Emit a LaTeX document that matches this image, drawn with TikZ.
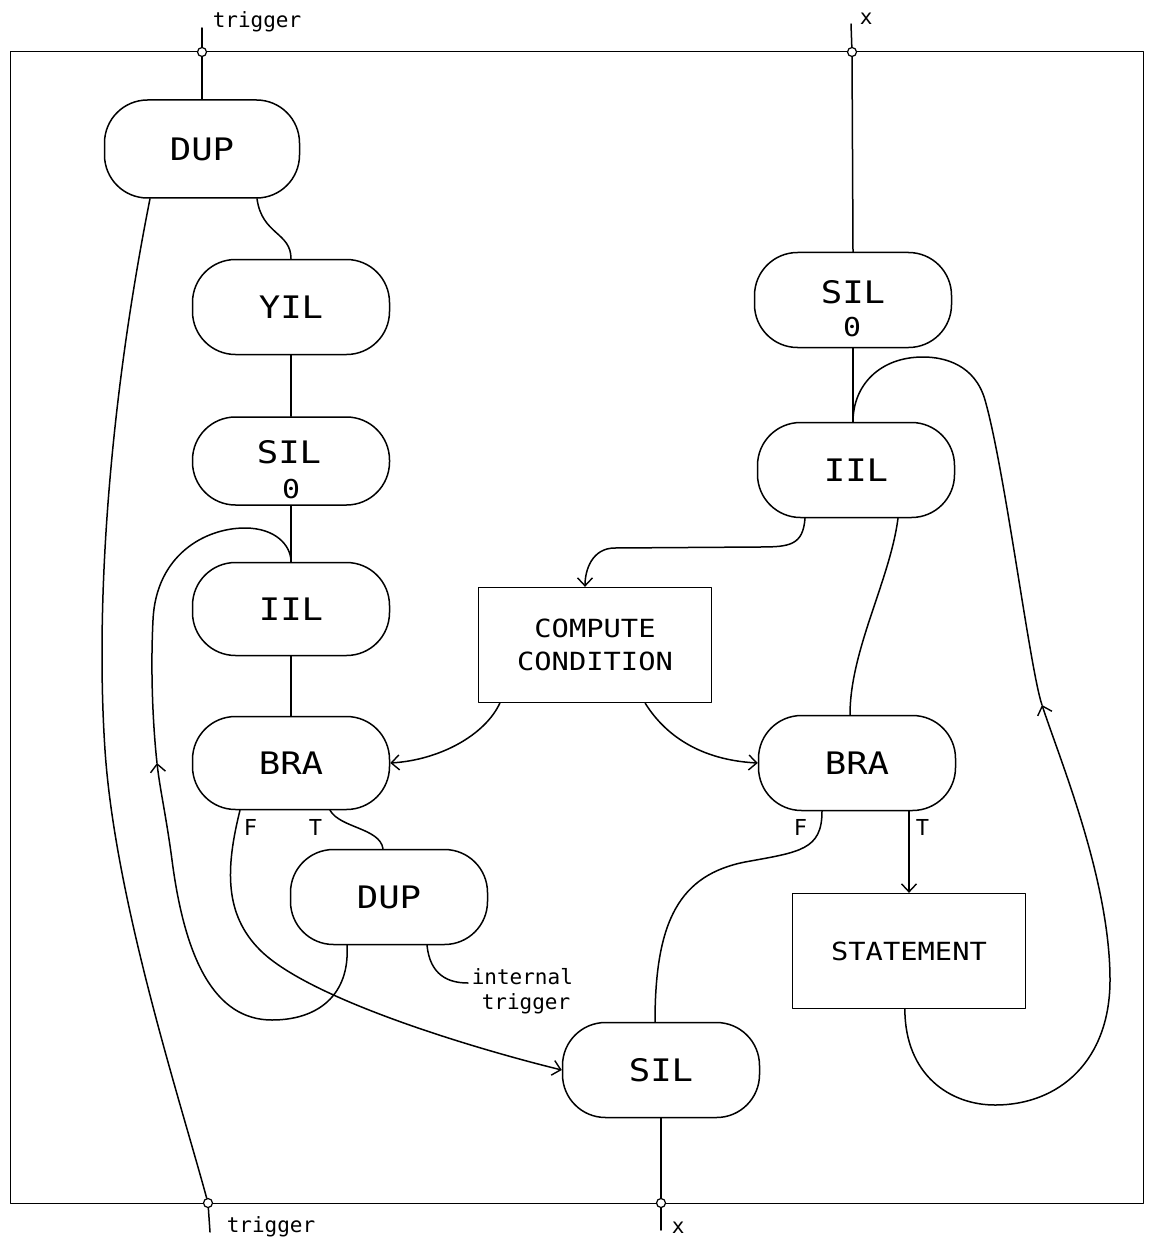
\documentclass[tikz,border=0pt]{standalone}
\usepackage{fontspec}
\newfontfamily\plotfont[FakeStretch=1.15]{DejaVu Sans Mono}
\newfontfamily\plotthin{DejaVu Sans Mono}
\usetikzlibrary{calc,arrows.meta}

\begin{document}
\begin{tikzpicture}[x=1pt,y=-1pt,
  line width=1.5pt, line cap=round, line join=round,
  >={Straight Barb[length=8pt,width=15pt,line width=1.4pt]},
  stadium/.style={draw, rectangle, rounded corners=43pt, minimum width=197pt,
    minimum height=95pt, inner sep=0pt, font=\plotfont\fontsize{31}{31}\selectfont},
  opbox/.style={draw, rectangle, minimum width=233pt, minimum height=115pt,
    inner sep=0pt, align=center, line width=1.3pt,
    font=\plotfont\fontsize{25}{33}\selectfont},
  big/.style={inner sep=0pt, font=\plotfont\fontsize{31}{31}\selectfont},
  digit/.style={inner sep=0pt, font=\plotfont\fontsize{26}{26}\selectfont},
  small/.style={inner sep=0pt, anchor=base west, font=\plotthin\fontsize{21}{21}\selectfont},
  flag/.style={inner sep=0pt, anchor=base west, font=\plotthin\fontsize{22}{22}\selectfont},
  port/.style={draw, circle, fill=white, minimum size=9pt, inner sep=0pt, line width=1.2pt},
]
\useasboundingbox (0,0) rectangle (1150,1241);
\fill[white] (0,0) rectangle (1150,1241);

% outer boundary of the block
\draw[line width=1pt] (10,52) rectangle (1143,1203);

% left column
\node[stadium, minimum width=195pt, minimum height=98pt] (dupA) at (202,149) {DUP};
\node[stadium] (yil) at (291,307) {YIL};
\node[stadium, minimum height=88pt] (silA) at (291,461) {};
\node[big] (silAt) at (289,452) {SIL};
\node[digit] (silAz) at (291,489) {0};
\node[stadium, minimum height=93pt] (iilA) at (291,609) {IIL};
\node[stadium, minimum height=93pt] (braA) at (291,763) {BRA};
\node[stadium] (dupB) at (389,897) {DUP};

% right column
\node[stadium] (silB) at (853,300) {};
\node[big] (silBt) at (853,292) {SIL};
\node[digit] (silBz) at (852,327) {0};
\node[stadium] (iilB) at (856,470) {IIL};
\node[stadium] (braB) at (857,763) {BRA};
\node[stadium] (silC) at (661,1070) {SIL};

% operation boxes
\node[opbox] (comp) at (595,645) {COMPUTE\\CONDITION};
\node[opbox] (stmt) at (909,951) {STATEMENT};

% ports on the boundary
\node[port] (pTrigIn) at (202,52) {};
\node[port] (pXIn) at (852,52) {};
\node[port] (pTrigOut) at (208,1203) {};
\node[port] (pXOut) at (661,1203) {};
\coordinate (sTrigIn) at (202,28);
\coordinate (sXIn) at (851,24);
\coordinate (sTrigOut) at (210,1232);
\coordinate (sXOut) at (661,1230);

% port and branch labels
\node[small] (lTrigIn) at (212,28) {trigger};
\node[small] (lXIn) at (859,25) {x};
\node[small] (lTrigOut) at (226,1232) {trigger};
\node[small] (lXOut) at (671,1233) {x};
\node[small] (lInt) at (471,984) {internal};
\node[small] (lIntB) at (481,1009) {trigger};
\node[flag] (fA) at (243,835) {F};
\node[flag] (tA) at (308,835) {T};
\node[flag] (fB) at (793,835) {F};
\node[flag] (tB) at (915,835) {T};

% trigger path
\draw (sTrigIn) -- (pTrigIn);
\draw (pTrigIn) -- (dupA.north);
\draw ($(dupA.south)+(55,0)$) .. controls (262,235) and (291,232) .. (yil.north);
\draw (yil.south) -- (silA.north);
\draw (silA.south) -- (iilA.north);
\draw (iilA.south) -- (braA.north);
\draw ($(dupA.south)+(-52,0)$) .. controls (110,400) and (95,600) .. (105,750)
      .. controls (115,900) and (180,1100) .. (pTrigOut);
\draw (pTrigOut) -- (sTrigOut);

% true branch: duplicate trigger, loop back
\draw ($(braA.south)+(39,0)$) .. controls (340,828) and (380,828) .. ($(dupB.north)+(-6,0)$);
\coordinate (arrL) at (157,763);
\coordinate (itrig) at (468,983);
\draw[->] ($(dupB.south)+(-42,0)$) .. controls (350,995) and (318,1020) .. (272,1020)
      .. controls (215,1020) and (185,960) .. (172,860)
      .. controls (166,815) and (160,790) .. (arrL);
\draw (arrL) .. controls (154,736) and (150,680) .. (153,620)
      .. controls (156,555) and (205,528) .. (245,528)
      .. controls (275,528) and (291,545) .. (iilA.north);
\draw ($(dupB.south)+(38,0)$) .. controls (430,975) and (448,983) .. (itrig);

% false branch to output selector
\draw[->] ($(braA.south)+(-51,0)$) .. controls (225,870) and (225,915) .. (260,950)
      .. controls (310,1000) and (480,1050) .. (silC.west);

% condition evaluation
\draw[->] ($(iilB.south)+(-51,0)$) .. controls (803,545) and (790,547) .. (760,547)
      -- (615,548) .. controls (592,548) and (585,570) .. ($(comp.north)+(-10,0)$);
\draw[->] ($(comp.south west)+(22,0)$) .. controls (485,735) and (440,760) .. (braA.east);
\draw[->] ($(comp.south east)+(-67,0)$) .. controls (665,735) and (700,760) .. (braB.west);

% x path
\draw (sXIn) -- (pXIn);
\draw (pXIn) -- (silB.north);
\draw (silB.south) -- (silB.south |- iilB.north);
\draw ($(iilB.south)+(42,0)$) .. controls (890,580) and (850,650) .. ($(braB.north)+(-7,0)$);
\draw[->] (braB.south -| stmt.north) -- (stmt.north);
\coordinate (arrR) at (1042,705);
\draw[->] ($(stmt.south west)+(113,0)$) .. controls (905,1075) and (950,1105) .. (995,1105)
      .. controls (1060,1105) and (1110,1060) .. (1110,980)
      .. controls (1110,880) and (1060,760) .. (arrR);
\draw (arrR) .. controls (1030,670) and (1005,470) .. (985,400)
      .. controls (975,365) and (945,357) .. (923,357)
      .. controls (880,357) and (853,385) .. (silB.south |- iilB.north);
\draw ($(braB.south)+(-35,0)$) .. controls (822,850) and (800,852) .. (745,862)
      .. controls (680,875) and (655,920) .. ($(silC.north)+(-6,0)$);
\draw (silC.south) -- (pXOut);
\draw (pXOut) -- (sXOut);
\end{tikzpicture}
\end{document}
